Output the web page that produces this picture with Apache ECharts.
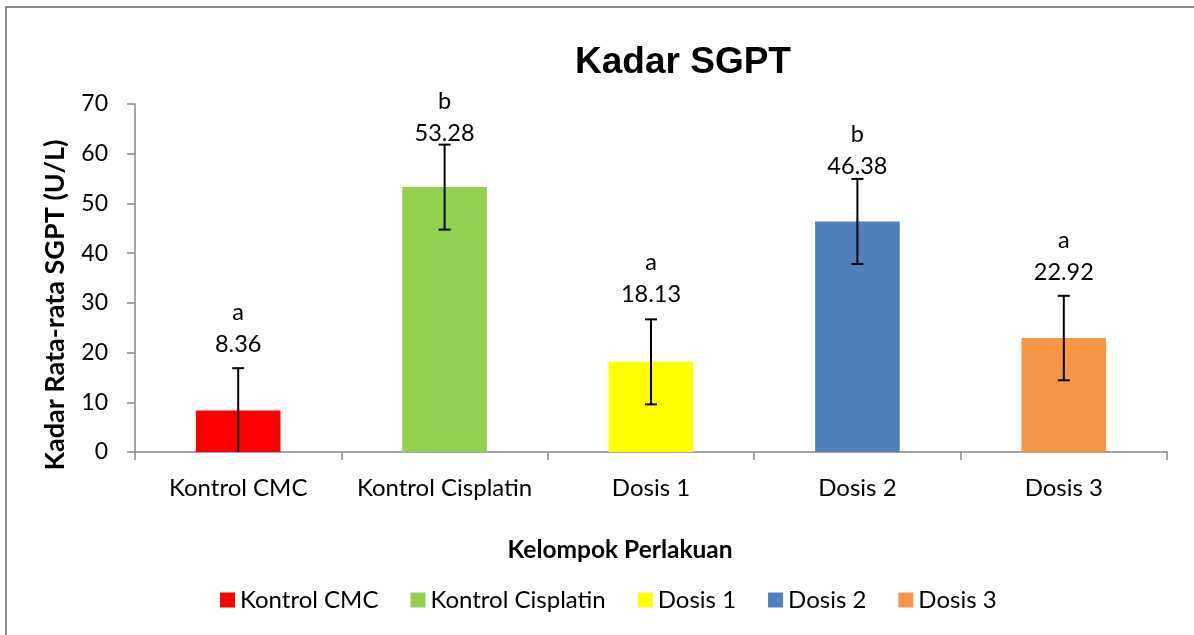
<!DOCTYPE html>
<html>
<head>
<meta charset="utf-8">
<script src="https://cdn.jsdelivr.net/npm/echarts@6/dist/echarts.min.js"></script>
<style>
  html, body { margin: 0; padding: 0; background: #fff; }
  #chart { width: 1194px; height: 635px; }
</style>
</head>
<body>
<div id="chart"></div>
<script>
// 数据
const groups = ['Kontrol CMC', 'Kontrol Cisplatin', 'Dosis 1', 'Dosis 2', 'Dosis 3'];
const means = [8.36, 53.28, 18.13, 46.38, 22.92];
const errors = [8.5, 8.55, 8.55, 8.55, 8.5];
const letters = ['a', 'b', 'a', 'b', 'a'];
const yTicks = { min: 0, max: 70, interval: 10 };

const colors = ['#FF0000', '#92D050', '#FFFF00', '#4F81BD', '#F79646'];
// 标签离柱顶的距离 (原图是手动摆放的)
const labelGap = [50, 38, 51, 39, 50];

const font = 'Lato, "Open Sans", sans-serif';

let myChart = echarts.init(document.getElementById('chart'));

// 每组一个系列, 叠在同一位置, 这样图例能显示每个组
let barSeries = groups.map((name, i) => ({
  name: name,
  type: 'bar',
  barWidth: '41%',
  barGap: '-100%',
  itemStyle: { color: colors[i] },
  data: means.map((v, j) => j === i ? v : '-'),
  label: {
    show: true,
    position: 'top',
    distance: labelGap[i],
    formatter: () => '{l|' + letters[i] + '}\n{v|' + means[i].toFixed(2) + '}',
    rich: {
      l: { fontFamily: font, fontSize: 23.5, color: '#000', lineHeight: 32 },
      v: { fontFamily: font, fontSize: 23.5, color: '#000', lineHeight: 32 }
    }
  }
}));

// 误差线
let errSeries = {
  type: 'custom',
  name: 'err',
  z: 10,
  data: means.map((v, i) => [i, v, errors[i]]),
  renderItem: function (params, api) {
    let x = api.value(0);
    let m = api.value(1);
    let e = api.value(2);
    let top = api.coord([x, m + e]);
    let lowVal = Math.max(m - e, 0);
    let low = api.coord([x, lowVal]);
    let cap = 6;
    let style = { stroke: '#000', lineWidth: 2 };
    let children = [
      { type: 'line', shape: { x1: top[0], y1: top[1], x2: low[0], y2: low[1] }, style },
      { type: 'line', shape: { x1: top[0] - cap, y1: top[1], x2: top[0] + cap, y2: top[1] }, style }
    ];
    if (m - e > 0) {
      children.push({ type: 'line', shape: { x1: low[0] - cap, y1: low[1], x2: low[0] + cap, y2: low[1] }, style });
    }
    return { type: 'group', children };
  }
};

let option = {
  animation: false,
  backgroundColor: '#fff',
  title: {
    text: 'Kadar SGPT',
    left: 678,
    top: 39,
    textAlign: 'center',
    textStyle: {
      fontFamily: '"Liberation Sans", Arial, sans-serif',
      fontSize: 37,
      fontWeight: 'bold',
      color: '#000'
    }
  },
  graphic: [{
    type: 'rect',
    shape: { x: 6, y: 7, width: 1300, height: 800 },
    style: { fill: 'none', stroke: '#898989', lineWidth: 2 },
    silent: true
  }],
  legend: {
    data: groups,
    bottom: 18,
    left: 215,
    itemWidth: 15,
    itemHeight: 15,
    itemGap: 32,
    icon: 'rect',
    textStyle: { fontFamily: font, fontSize: 24, color: '#000' }
  },
  grid: {
    left: 135,
    right: 27,
    top: 104,
    bottom: 183
  },
  xAxis: {
    type: 'category',
    data: groups,
    name: 'Kelompok Perlakuan',
    nameLocation: 'middle',
    nameGap: 86,
    nameTextStyle: {
      fontFamily: font, fontSize: 24.5, fontWeight: 'bold', color: '#000',
      padding: [0, 62, 0, 0]
    },
    axisLine: { lineStyle: { color: '#868686', width: 1.5 } },
    axisTick: { show: true, length: 8, lineStyle: { color: '#868686', width: 1.5 } },
    axisLabel: { fontFamily: font, fontSize: 24, color: '#000', margin: 24, interval: 0, hideOverlap: false }
  },
  yAxis: {
    type: 'value',
    min: yTicks.min,
    max: yTicks.max,
    interval: yTicks.interval,
    name: 'Kadar Rata-rata SGPT (U/L)',
    nameLocation: 'middle',
    nameGap: 66,
    nameTextStyle: {
      fontFamily: font, fontSize: 27, fontWeight: 'bold', color: '#000',
      padding: [0, 54, 0, 0]
    },
    splitLine: { show: false },
    axisLine: { show: true, lineStyle: { color: '#868686', width: 1.5 } },
    axisTick: { show: true, length: 8, lineStyle: { color: '#868686', width: 1.5 } },
    axisLabel: { fontFamily: font, fontSize: 23, color: '#000', margin: 27 }
  },
  series: [...barSeries, errSeries]
};
myChart.setOption(option);
</script>
</body>
</html>
